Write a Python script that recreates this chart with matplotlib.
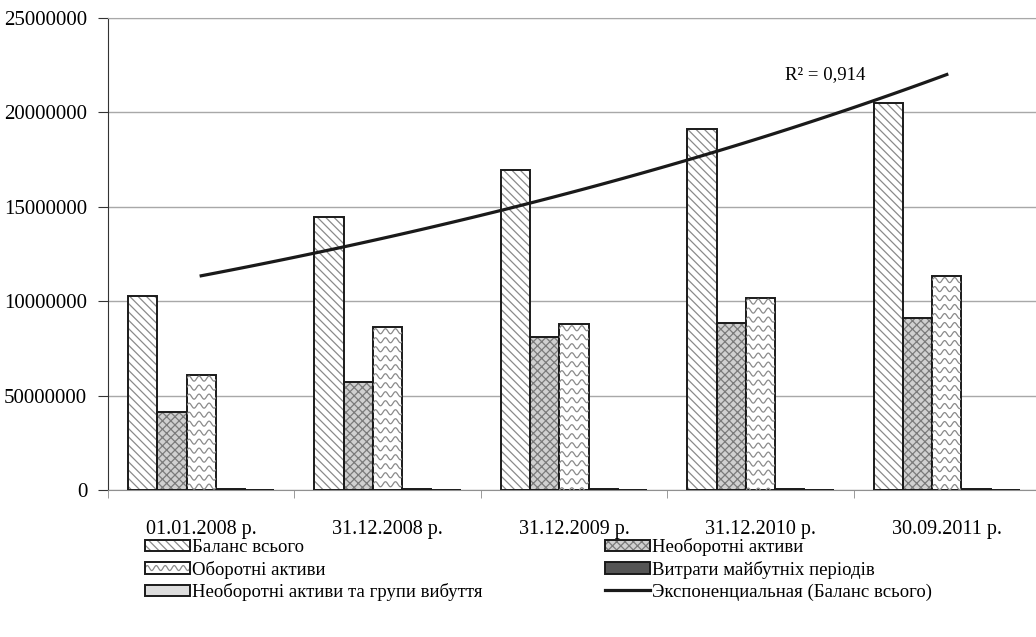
import numpy as np
import matplotlib.pyplot as plt
from matplotlib.patches import Patch, Rectangle
from matplotlib.lines import Line2D
from matplotlib.legend_handler import HandlerBase

plt.rcParams['font.family'] = ['Liberation Serif', 'DejaVu Serif']
plt.rcParams['hatch.linewidth'] = 0.9

# dani z grafika
dates = ['01.01.2008 р.', '31.12.2008 р.', '31.12.2009 р.', '31.12.2010 р.', '30.09.2011 р.']
balans = [10290000, 14440000, 16950000, 19100000, 20480000]
neoborotni = [4130000, 5740000, 8090000, 8860000, 9090000]
oborotni = [6110000, 8620000, 8780000, 10190000, 11330000]
vytraty = [60000, 70000, 60000, 60000, 60000]
hrupy = [15000, 15000, 15000, 15000, 15000]
y_ticks = [0, 5000000, 10000000, 15000000, 20000000, 25000000]
y_labels = ['0', '50000000', '10000000', '15000000', '20000000', '25000000']
names = ['Баланс всього', 'Необоротні активи', 'Оборотні активи',
         'Витрати майбутніх періодів', 'Необоротні активи та групи вибуття',
         'Экспоненциальная (Баланс всього)']
r2_text = 'R\u00b2 = 0,914'

fig = plt.figure(figsize=(10.36, 6.37), dpi=100)
ax = fig.add_axes([108 / 1036, 147 / 637, 932 / 1036, 472 / 637])
ax.set_xlim(-0.5, 4.5)
ax.set_ylim(0, 25000000)

x = np.arange(len(dates))
w = 0.157
gray = '#8a8a8a'

# osnovni stovpchyky
ax.bar(x - 2 * w, balans, w, color='white', edgecolor=gray, hatch='\\\\\\\\', lw=0, zorder=2)
ax.bar(x - 2 * w, balans, w, fill=False, edgecolor='#1a1a1a', lw=1.4, zorder=3)
ax.bar(x - w, neoborotni, w, color='#d0d0d0', edgecolor='#7a7a7a', hatch='xxxx', lw=0, zorder=2)
ax.bar(x - w, neoborotni, w, fill=False, edgecolor='#1a1a1a', lw=1.4, zorder=3)
ob = ax.bar(x, oborotni, w, color='white', edgecolor='#1a1a1a', lw=1.4, zorder=3)
ax.bar(x + w, vytraty, w, color='#555555', edgecolor='#1a1a1a', lw=1.4, zorder=3)
ax.bar(x + 2 * w, hrupy, w, color='#dddddd', edgecolor='#1a1a1a', lw=1.4, zorder=3)

# hvylyasta shtrykhovka dlya oborotnykh aktyviv
bb = ax.get_window_extent()
px = 5.0 / bb.width
py = 25000000 / bb.height
for r in ob.patches:
    x0 = r.get_x()
    x1 = x0 + r.get_width()
    h = r.get_height()
    xs = np.linspace(x0, x1, 80)
    yk = h - 4 * py
    while yk > -3 * py:
        ys = yk + 2.5 * py * np.sin(2 * np.pi * (xs - x0) / (10 * px))
        ln, = ax.plot(xs, ys, color=gray, lw=0.9, zorder=3)
        ln.set_clip_path(r)
        yk -= 9 * py

# eksponentsialnyi trend
k, b = np.polyfit(x, np.log(balans), 1)
xt = np.linspace(0, 4, 100)
ax.plot(xt, np.exp(b + k * xt), color='#1a1a1a', lw=2.3, zorder=4)
ax.text(3.13, 21980000, r2_text, fontsize=13.5, ha='left', va='center')

# osi
ax.set_yticks(y_ticks)
ax.set_yticklabels(y_labels)
ax.set_xticks(x)
ax.set_xticklabels(dates)
ax.set_xticks(np.arange(-0.5, 5, 1), minor=True)
ax.tick_params(axis='x', which='major', length=0, pad=21.5, labelsize=14.5)
ax.tick_params(axis='x', which='minor', length=6, color=gray, direction='out')
ax.tick_params(axis='y', length=7, color='#333333', pad=8, labelsize=15)
ax.grid(axis='y', color='#a8a8a8', lw=1, zorder=0)
ax.spines['right'].set_visible(False)
ax.spines['top'].set_color('#a8a8a8')
ax.spines['bottom'].set_color('#909090')
ax.spines['left'].set_color('#333333')


class WaveHandler(HandlerBase):
    def create_artists(self, legend, orig_handle, xdescent, ydescent, width, height, fontsize, trans):
        x0, y0 = -xdescent, -ydescent
        xs = np.linspace(x0, x0 + width, 80)
        ys = y0 + height / 2 + height * 0.22 * np.sin(2 * np.pi * (xs - x0) / (width / 5))
        wave = Line2D(xs, ys, color=gray, lw=0.9, transform=trans)
        box = Rectangle((x0, y0), width, height, fill=False, edgecolor='#1a1a1a', lw=1.4, transform=trans)
        return [wave, box]


outline = Patch(fill=False, edgecolor='#1a1a1a', lw=1.4)
h_bal = (Patch(facecolor='white', edgecolor=gray, hatch='\\\\\\\\', lw=0), outline)
h_neo = (Patch(facecolor='#d0d0d0', edgecolor='#7a7a7a', hatch='xxxx', lw=0), outline)
h_ob = Patch(facecolor='white')
h_vyt = Patch(facecolor='#555555', edgecolor='#1a1a1a', lw=1.4)
h_hr = Patch(facecolor='#dddddd', edgecolor='#1a1a1a', lw=1.4)
h_tr = Line2D([], [], color='#1a1a1a', lw=2.3)

fig.legend([h_bal, h_ob, h_hr, h_neo, h_vyt, h_tr],
           [names[0], names[2], names[4], names[1], names[3], names[5]],
           handler_map={h_ob: WaveHandler()},
           ncol=2, loc='upper left', bbox_to_anchor=(145 / 1036, 1 - 538 / 637),
           frameon=False, fontsize=13.5, borderpad=0, borderaxespad=0,
           handlelength=2.4, handleheight=0.55, handletextpad=0.1,
           labelspacing=0.25, columnspacing=6.55)

fig.savefig('out.png', dpi=100)
